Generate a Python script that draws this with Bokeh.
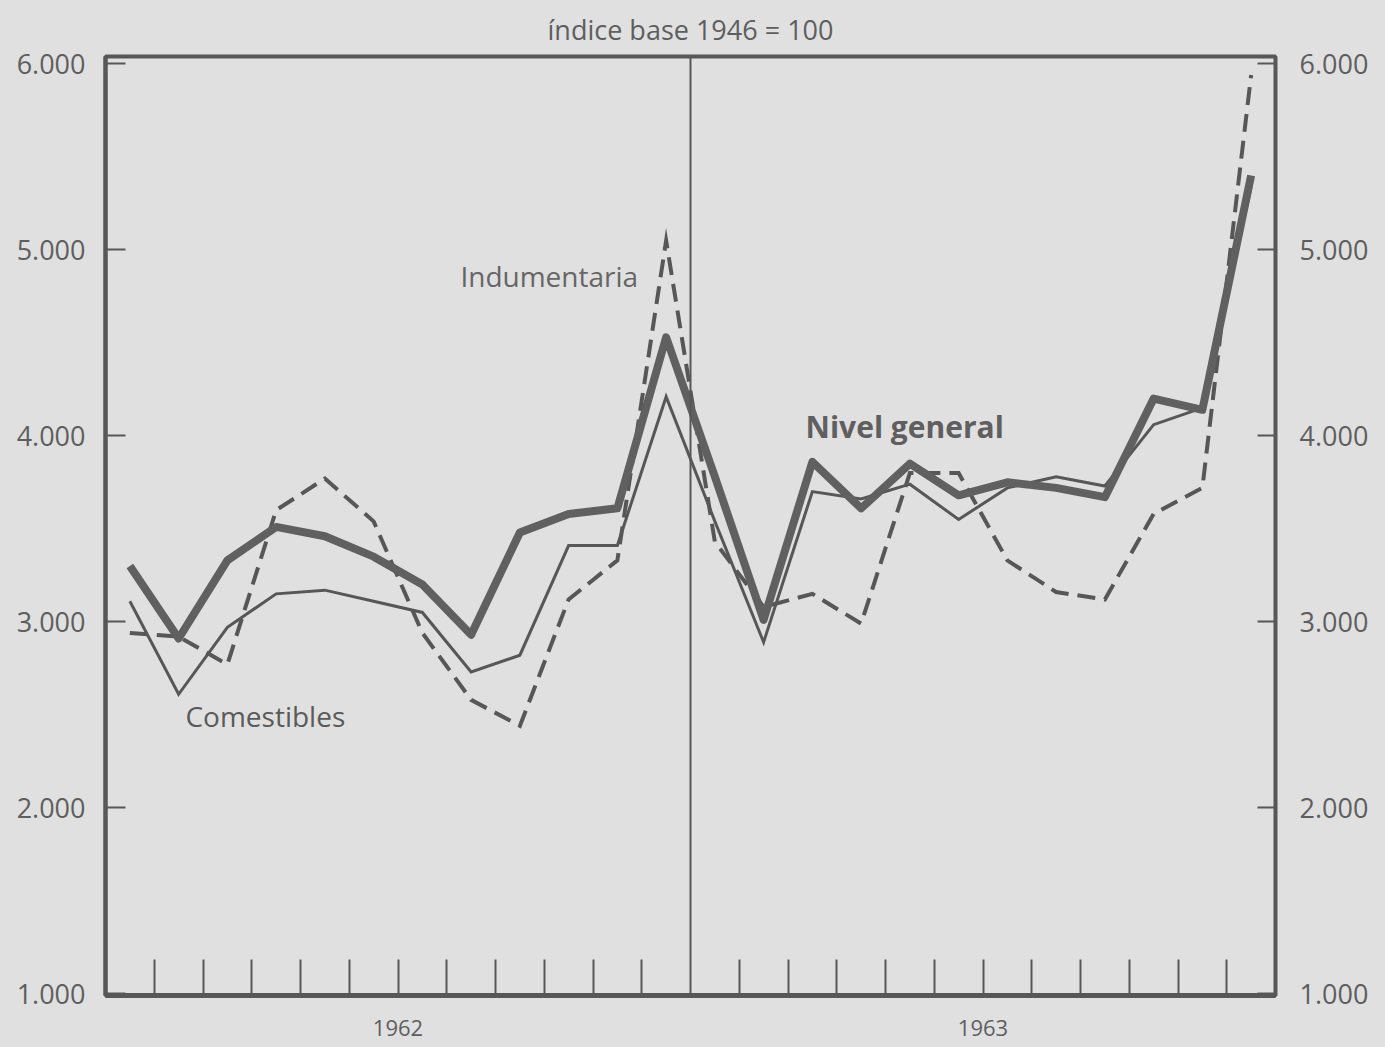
from bokeh.plotting import figure
from bokeh.models import Range1d, LinearAxis, FixedTicker, Label, Span
from bokeh.embed import file_html
from bokeh.resources import INLINE

# ---- data (índice base 1946 = 100), monthly, Jan 1962 .. Dec 1963 ----
months = list(range(24))  # month index 0..23
nivel_general = [3300, 2910, 3330, 3510, 3460, 3350, 3200, 2930, 3480, 3580, 3610, 4530,
                 3780, 3010, 3860, 3610, 3850, 3680, 3750, 3720, 3670, 4200, 4140, 5400]
comestibles = [3110, 2610, 2970, 3150, 3170, 3110, 3050, 2730, 2820, 3410, 3410, 4210,
               3540, 2890, 3700, 3660, 3740, 3550, 3720, 3780, 3730, 4060, 4150, 5340]
indumentaria = [2940, 2920, 2770, 3600, 3770, 3540, 2940, 2580, 2440, 3120, 3330, 5050,
                3430, 3080, 3150, 2990, 3800, 3800, 3330, 3160, 3120, 3580, 3720, 5940]
years = ["1962", "1963"]
y_ticks = [1000, 2000, 3000, 4000, 5000, 6000]
y_tick_labels = ["1.000", "2.000", "3.000", "4.000", "5.000", "6.000"]
title_text = "índice base 1946 = 100"

BG = "#e0e0e0"
INK = "#575757"
TXT = "#5e5e5e"
FONT = "Open Sans"

x_mid = [m + 0.5 for m in months]

p = figure(width=1380, height=1044, output_backend="svg", toolbar_location=None,
           x_range=Range1d(0, 24), y_range=Range1d(990, 6040),
           min_border_left=105, min_border_right=105, min_border_top=55, min_border_bottom=49)
p.background_fill_color = BG
p.border_fill_color = BG
p.outline_line_color = INK
p.outline_line_width = 4
p.grid.visible = False

p.title.text = title_text
p.title.align = "center"
p.title.text_font = FONT
p.title.text_font_size = "27px"
p.title.text_font_style = "normal"
p.title.text_color = TXT
p.title.text_line_height = 0.9
p.title.standoff = 17

# x axis: month boundary ticks pointing inward, year labels
month_ticks = [t for t in range(1, 24) if t != 12]
xa = p.xaxis[0]
xa.ticker = FixedTicker(ticks=month_ticks)
overrides = {t: "" for t in month_ticks}
overrides[6] = years[0]
overrides[18] = years[1]
xa.major_label_overrides = overrides
xa.major_tick_in = 36
xa.major_tick_out = 0
xa.major_tick_line_width = 2
xa.major_tick_line_color = INK
xa.minor_tick_line_color = None
xa.axis_line_color = INK
xa.axis_line_width = 5
xa.major_label_text_font = FONT
xa.major_label_text_font_size = "22px"
xa.major_label_text_color = TXT
xa.major_label_standoff = 24

# left y axis
ya = p.yaxis[0]
ya.ticker = FixedTicker(ticks=y_ticks)
ya.major_label_overrides = dict(zip(y_ticks, y_tick_labels))
ya.major_tick_in = 20
ya.major_tick_out = 0
ya.major_tick_line_width = 2
ya.major_tick_line_color = INK
ya.minor_tick_line_color = None
ya.axis_line_color = INK
ya.axis_line_width = 4
ya.major_label_text_font = FONT
ya.major_label_text_font_size = "27px"
ya.major_label_text_color = TXT
ya.major_label_standoff = 20

# right y axis
ra = LinearAxis(ticker=FixedTicker(ticks=y_ticks))
ra.major_label_overrides = dict(zip(y_ticks, y_tick_labels))
ra.major_tick_in = 18
ra.major_tick_out = 0
ra.major_tick_line_width = 2
ra.major_tick_line_color = INK
ra.minor_tick_line_color = None
ra.axis_line_color = INK
ra.axis_line_width = 3
ra.major_label_text_font = FONT
ra.major_label_text_font_size = "27px"
ra.major_label_text_color = TXT
ra.major_label_standoff = 24
p.add_layout(ra, "right")

# year divider
p.add_layout(Span(location=12, dimension="height", line_color=INK, line_width=2))

# series
p.line(x_mid, comestibles, line_color=INK, line_width=3, line_join="miter")
p.line(x_mid, indumentaria, line_color=INK, line_width=4, line_dash="18 9", line_join="miter")
p.line(x_mid, nivel_general, line_color="#606060", line_width=8, line_join="round")

# series labels
p.add_layout(Label(x=7.28, y=4858, text="Indumentaria", text_baseline="middle",
                   text_font=FONT, text_font_size="28px", text_color="#666666"))
p.add_layout(Label(x=14.36, y=4052, text="Nivel  general", text_baseline="middle",
                   text_font=FONT, text_font_size="30px", text_font_style="bold",
                   text_color="#5f5f5f"))
p.add_layout(Label(x=1.64, y=2494, text="Comestibles", text_baseline="middle",
                   text_font=FONT, text_font_size="28px", text_color="#5a5a5a"))

html = file_html(p, INLINE)
html = html.replace("<head>", "<head><style>html,body{background:%s;}</style>" % BG, 1)
open("out.html", "w").write(html)
